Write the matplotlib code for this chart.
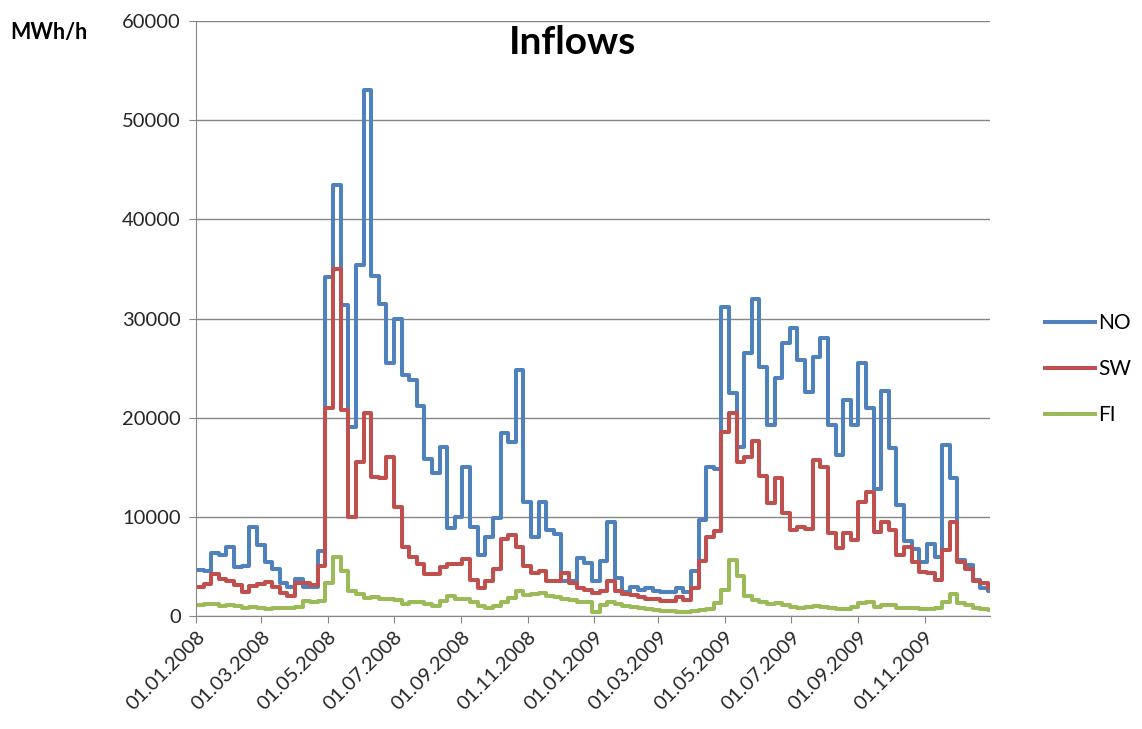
import matplotlib
matplotlib.use("Agg")
import matplotlib.pyplot as plt
import matplotlib.dates as mdates
import pandas as pd

# weekly inflow values (MWh/h), starting 01.01.2008
no_vals = [4600, 4500, 6400, 6200, 7000, 4900, 5000, 9000, 7200, 5400, 4700, 3300, 2900, 3700, 2900, 2900, 6600,
           34200, 43500, 31400, 19100, 35400, 53000, 34300, 31500, 25500, 30000, 24300, 23800, 21200, 15800, 14400, 17000, 8900, 10000,
           15000, 9000, 6200, 8000, 9900, 18500, 17500, 24800, 11500, 8000, 11500, 8700, 8300, 3500, 3500, 5850, 5300, 3500,
           5500, 9500, 3800, 2400, 2900, 2600, 2800, 2500, 2400, 2400, 2800, 2400, 4500, 9700, 15000, 14800, 31200,
           22500, 17000, 26500, 32000, 25100, 19300, 24000, 27500, 29000, 25800, 22600, 26100, 28000, 19300, 16200, 21800, 19300, 25500,
           21000, 12800, 22700, 16900, 11200, 7600, 6800, 5400, 7300, 6000, 17200, 13900, 5600, 5100, 3600, 2800, 2500]
sw_vals = [2900, 3200, 4200, 3700, 3500, 3100, 2400, 3000, 3200, 3400, 2900, 2300, 2000, 3300, 3300, 3100, 5000,
           21000, 35000, 20800, 10000, 15500, 20500, 14000, 13900, 16000, 11000, 7000, 5900, 5200, 4200, 4200, 4900, 5200, 5200,
           5700, 3600, 2800, 3500, 4700, 7800, 8200, 7000, 5000, 4300, 4500, 3500, 3500, 4300, 3300, 2800, 2600, 2300,
           2500, 3500, 2500, 2200, 2100, 1900, 1750, 1700, 1550, 1550, 1900, 1600, 2800, 5500, 8000, 8600, 18600,
           20500, 15500, 16000, 17600, 14100, 11400, 13900, 10400, 8700, 9000, 8800, 15700, 15000, 8400, 6900, 8400, 7700, 11500,
           12500, 8500, 9500, 8700, 6200, 7000, 5400, 4400, 4300, 3600, 6700, 9500, 5400, 4700, 3500, 3300, 2800]
fi_vals = [1100, 1200, 1250, 1000, 1100, 1000, 800, 900, 850, 750, 850, 800, 850, 900, 1500, 1400, 1500,
           3300, 6000, 4500, 2500, 2200, 1800, 1900, 1700, 1700, 1600, 1200, 1400, 1400, 1200, 1000, 1500, 2000, 1700,
           1700, 1400, 1000, 800, 1000, 1400, 1800, 2500, 2100, 2200, 2300, 2000, 1900, 1700, 1600, 1400, 1400, 400,
           1100, 1400, 1200, 1000, 900, 800, 750, 650, 550, 500, 450, 400, 550, 650, 750, 1300, 2600,
           5600, 4000, 2000, 1600, 1400, 1200, 1300, 1100, 900, 850, 950, 1000, 900, 800, 700, 700, 900, 1300,
           1400, 900, 1100, 1100, 800, 800, 800, 700, 700, 800, 1400, 2200, 1300, 1100, 800, 700, 600]

dates = list(pd.date_range("2008-01-01", periods=len(no_vals), freq="7D"))
end = pd.Timestamp("2009-12-31")
dates.append(end)
series = [("NO", no_vals, "#4F81BD"), ("SW", sw_vals, "#C0504D"), ("FI", fi_vals, "#9BBB59")]

plt.rcParams['font.family'] = ['Lato', 'DejaVu Sans']

fig = plt.figure(figsize=(11.42, 7.29), dpi=100)
ax = fig.add_axes([196/1142, 1-616/729, (990-196)/1142, (616-21)/729])

for name, vals, col in series:
    ax.plot(dates, vals + [vals[-1]], drawstyle="steps-post", color=col, lw=2.9, label=name)

ax.set_xlim(pd.Timestamp("2008-01-01"), end)
ax.set_ylim(0, 60000)
ax.set_yticks(range(0, 60001, 10000))
ax.xaxis.set_major_locator(mdates.MonthLocator(bymonth=[1, 3, 5, 7, 9, 11]))
ax.xaxis.set_major_formatter(mdates.DateFormatter("%d.%m.%Y"))
ax.grid(axis="y", color="#868686", lw=1)
ax.set_axisbelow(True)
for s in ["top", "right"]:
    ax.spines[s].set_visible(False)
for s in ["left", "bottom"]:
    ax.spines[s].set_color("#868686")
ax.tick_params(axis="both", colors="#868686", labelcolor="#262626", labelsize=14.5, length=5)
ax.tick_params(axis="y", pad=6)
ax.tick_params(axis="x", pad=4)
plt.setp(ax.get_xticklabels(), rotation=45, ha="right", rotation_mode="anchor")

fig.text(572/1142, 1-42/729, "Inflows", ha="center", va="center", fontsize=28, fontweight="bold")
fig.text(10/1142, 1-32/729, "MWh/h", ha="left", va="center", fontsize=15.5, fontweight="bold")

fig.legend(loc="center left", bbox_to_anchor=(1045/1142, 1-369/729), frameon=False,
           borderaxespad=0, borderpad=0, fontsize=15, handlelength=2.4,
           labelspacing=1.25, handletextpad=0.15)

fig.savefig("out.png", dpi=100)
